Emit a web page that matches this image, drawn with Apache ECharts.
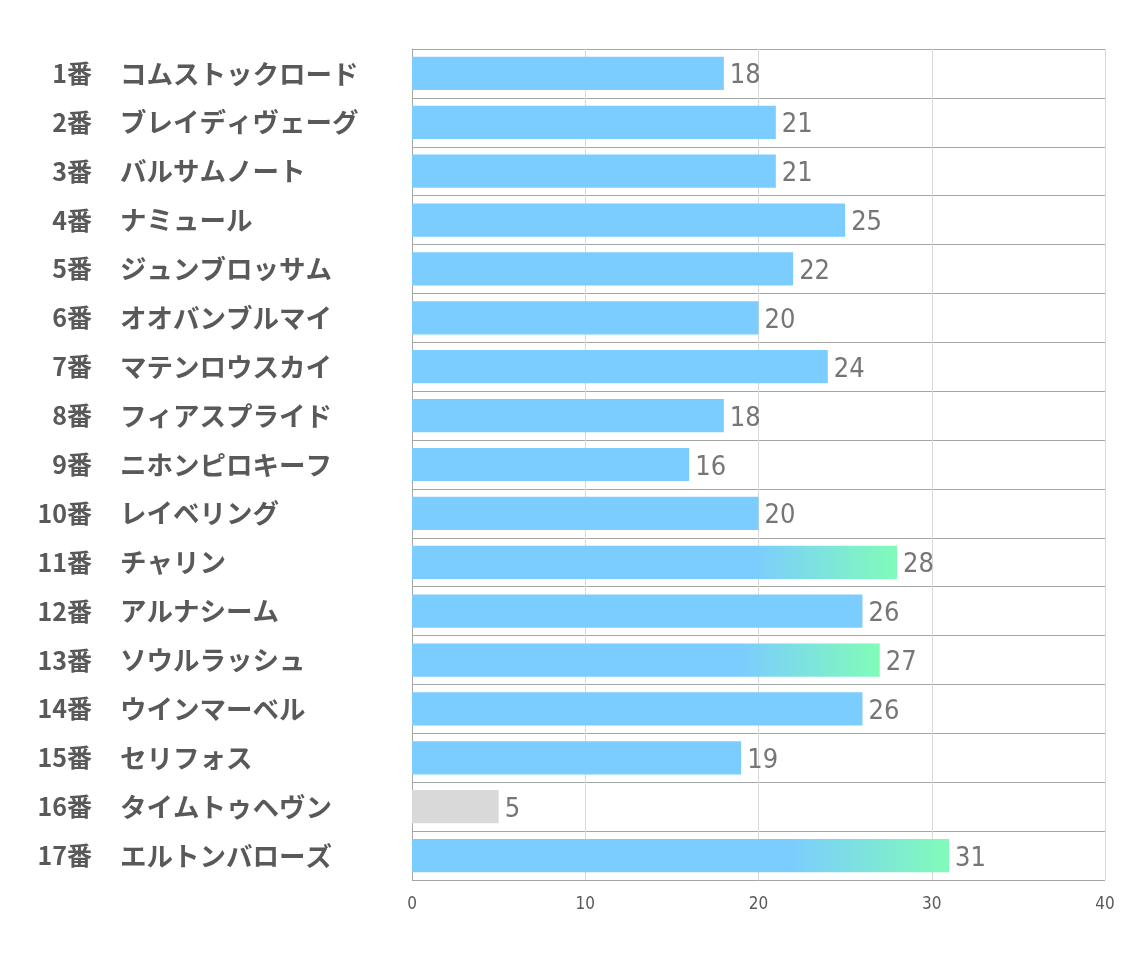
<!DOCTYPE html>
<html>
<head>
<meta charset="utf-8">
<script src="https://cdn.jsdelivr.net/npm/echarts@6/dist/echarts.min.js"></script>
<style>
html,body{margin:0;padding:0;background:#fff;}
#main{width:1134px;height:964px;}
</style>
</head>
<body>
<div id="main"></div>
<script>
const numbers = ['1番','2番','3番','4番','5番','6番','7番','8番','9番','10番','11番','12番','13番','14番','15番','16番','17番'];
const horses = ['コムストックロード','ブレイディヴェーグ','バルサムノート','ナミュール','ジュンブロッサム','オオバンブルマイ','マテンロウスカイ','フィアスプライド','ニホンピロキーフ','レイベリング','チャリン','アルナシーム','ソウルラッシュ','ウインマーベル','セリフォス','タイムトゥヘヴン','エルトンバローズ'];
const values = [18,21,21,25,22,20,24,18,16,20,28,26,27,26,19,5,31];
const gradientNumbers = ['11番','13番','17番'];
const greyNumbers = ['16番'];
const xTicks = [0,10,20,30,40];

const BLUE = '#7BCCFF', GREEN = '#80FCB8', GREY = '#D9D9D9';
const NARROW = '"Liberation Sans Narrow", "DejaVu Sans Condensed", "Liberation Sans", sans-serif';
const LABEL_FONT = {fontSize:26, fontWeight:'bold', color:'#595959', fontFamily:'Noto Sans CJK JP'};

const data = values.map((v,i) => {
  let color = BLUE;
  if (gradientNumbers.includes(numbers[i])) {
    color = new echarts.graphic.LinearGradient(0,0,1,0,[
      {offset:0, color:BLUE},{offset:0.7, color:BLUE},{offset:1, color:GREEN}
    ]);
  } else if (greyNumbers.includes(numbers[i])) {
    color = GREY;
  }
  return {value:v, itemStyle:{color:color}};
});

const chart = echarts.init(document.getElementById('main'));
chart.setOption({
  animation:false,
  backgroundColor:'#fff',
  grid:{left:412, right:29, top:49, bottom:84, containLabel:false},
  xAxis:{
    type:'value', min:xTicks[0], max:xTicks[xTicks.length-1], interval:10,
    axisLine:{show:false}, axisTick:{show:false},
    splitLine:{show:true, lineStyle:{color:'#D9D9D9', width:1}},
    axisLabel:{color:'#595959', fontSize:17, margin:16, fontFamily:NARROW}
  },
  yAxis:[{
    type:'category', inverse:true, data:numbers, position:'left',
    axisLine:{show:true, lineStyle:{color:'#A6A6A6'}}, axisTick:{show:false},
    splitLine:{show:true, lineStyle:{color:'#A6A6A6', width:1}},
    axisLabel:Object.assign({align:'right', margin:320}, LABEL_FONT, {fontSize:25})
  },{
    type:'category', inverse:true, data:horses, position:'left', offset:0,
    axisLine:{show:false}, axisTick:{show:false}, splitLine:{show:false},
    axisLabel:Object.assign({align:'left', margin:292}, LABEL_FONT, {fontSize:26.5})
  }],
  series:[{
    type:'bar', data:data, barCategoryGap:'32%', yAxisIndex:0,
    label:{show:true, position:'right', distance:6, offset:[0,3], fontSize:27, color:'#767676', fontFamily:NARROW}
  }]
});
</script>
</body>
</html>
